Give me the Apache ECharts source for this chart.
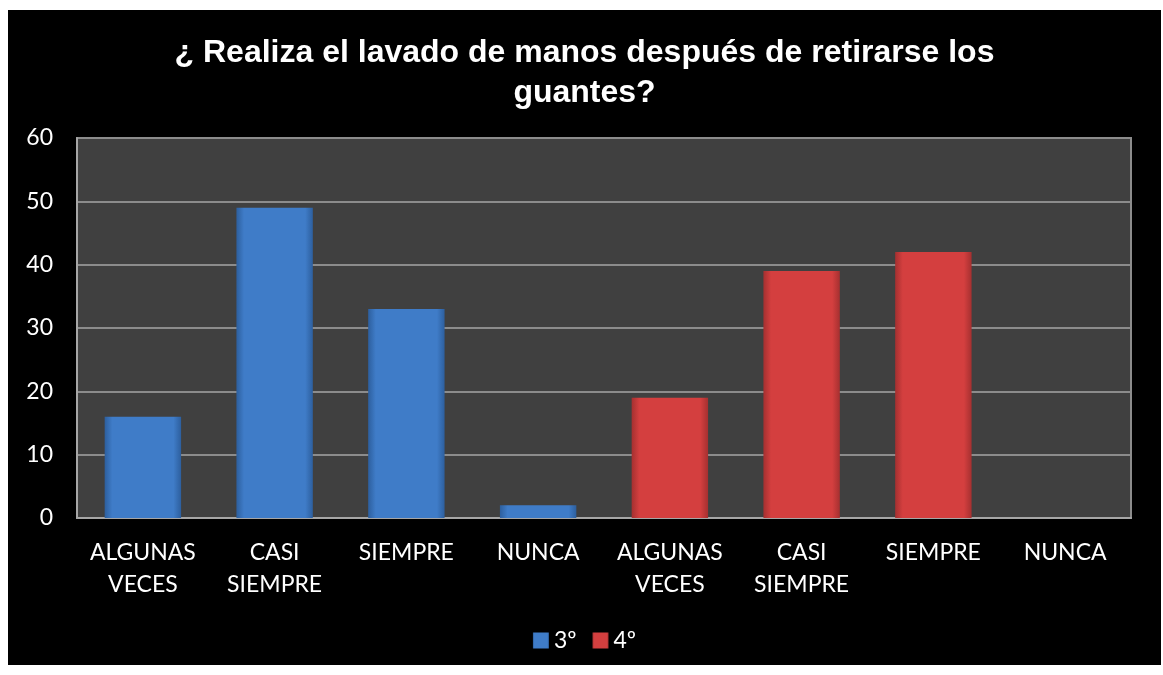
<!DOCTYPE html>
<html>
<head>
<meta charset="utf-8">
<script src="https://cdn.jsdelivr.net/npm/echarts@6/dist/echarts.min.js"></script>
<style>
  html, body { margin: 0; padding: 0; background: #ffffff; }
  #chart { position: absolute; left: 8px; top: 10px; width: 1153px; height: 655px; background: #000000; }
</style>
</head>
<body>
<div id="chart"></div>
<script>
// categories (two groups of four answers)
const categories = ['ALGUNAS\nVECES', 'CASI\nSIEMPRE', 'SIEMPRE', 'NUNCA', 'ALGUNAS\nVECES', 'CASI\nSIEMPRE', 'SIEMPRE', 'NUNCA']
const yTicks = [0, 10, 20, 30, 40, 50, 60]
// series values
const tercero = [16, 49, 33, 2, null, null, null, null]
const cuarto = [null, null, null, null, 19, 39, 42, 0]

const chart = echarts.init(document.getElementById('chart'))

const bevel = (mid, edge) => ({
  type: 'linear', x: 0, y: 0, x2: 1, y2: 0,
  colorStops: [
    { offset: 0, color: edge },
    { offset: 0.1, color: mid },
    { offset: 0.9, color: mid },
    { offset: 1, color: edge }
  ]
})

const option = {
  backgroundColor: '#000000',
  title: {
    text: '¿ Realiza el lavado de manos después de retirarse los\nguantes?',
    left: 'center',
    top: 18,
    textStyle: {
      color: '#ffffff',
      fontFamily: 'Liberation Sans, Arial',
      fontWeight: 'bold',
      fontSize: 32,
      lineHeight: 40
    }
  },
  legend: {
    bottom: 8,
    left: 'center',
    itemWidth: 16,
    itemHeight: 16,
    itemGap: 16,
    icon: 'rect',
    textStyle: { color: '#ffffff', fontFamily: 'Lato, Noto Sans', fontSize: 23 },
    data: ['3º', '4º']
  },
  grid: {
    left: 69,
    right: 30,
    top: 128,
    bottom: 147,
    show: true,
    backgroundColor: '#404040',
    borderColor: '#8c8c8c',
    borderWidth: 2
  },
  xAxis: {
    type: 'category',
    data: categories,
    axisLine: { lineStyle: { color: '#a6a6a6', width: 2 } },
    axisTick: { show: false },
    axisLabel: {
      color: '#ffffff',
      fontFamily: 'Lato, Noto Sans',
      fontSize: 23,
      lineHeight: 32,
      margin: 19,
      interval: 0
    }
  },
  yAxis: {
    type: 'value',
    min: yTicks[0],
    max: yTicks[yTicks.length - 1],
    interval: 10,
    axisLine: { show: true, lineStyle: { color: '#a6a6a6', width: 2 } },
    axisTick: { show: false },
    splitLine: { lineStyle: { color: '#8c8c8c', width: 2 } },
    axisLabel: {
      color: '#ffffff',
      fontFamily: 'Lato, Noto Sans',
      fontSize: 23,
      margin: 24
    }
  },
  series: [
    {
      name: '3º',
      type: 'bar',
      data: tercero,
      barWidth: '58%',
      barGap: '-100%',
      itemStyle: { color: bevel('#3f7cc8', '#2d5f9e') }
    },
    {
      name: '4º',
      type: 'bar',
      data: cuarto,
      barWidth: '58%',
      itemStyle: { color: bevel('#d43f3f', '#a53030') }
    }
  ]
}

chart.setOption(option)
</script>
</body>
</html>
